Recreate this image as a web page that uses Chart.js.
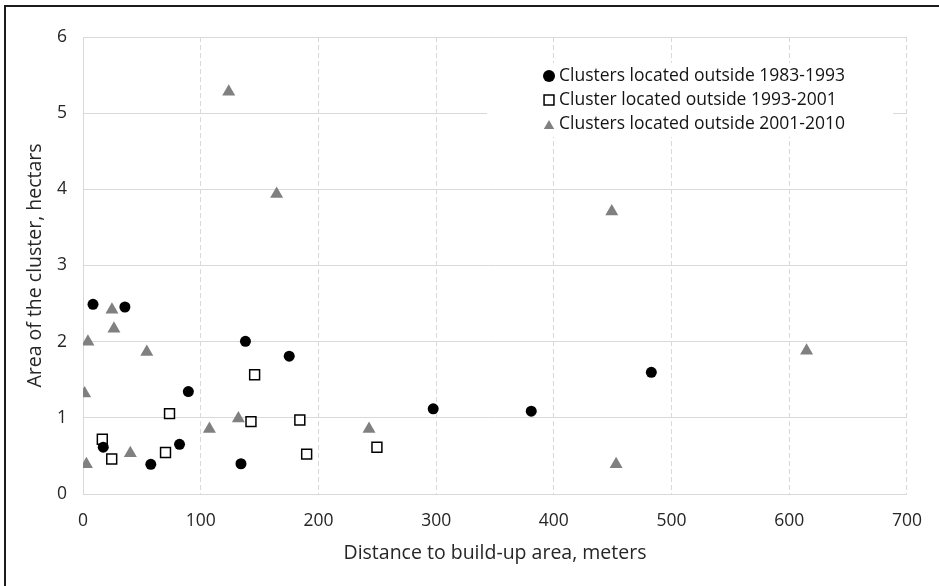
<!DOCTYPE html>
<html>
<head>
<meta charset="utf-8">
<script src="https://cdn.jsdelivr.net/npm/chart.js@4/dist/chart.umd.min.js"></script>
<style>
  html, body { margin: 0; padding: 0; background: #ffffff; }
  #wrap { width: 939px; height: 586px; position: relative; }
</style>
</head>
<body>
<div id="wrap"><canvas id="c" width="939" height="586"></canvas></div>
<script>
// ---- data ----
const seriesNames = [
  'Clusters located outside 1983-1993',
  'Cluster located outside 1993-2001',
  'Clusters located outside 2001-2010'
];
const circlesX = [8.5, 35.6, 138, 175.2, 89.5, 17.2, 57.6, 82, 134.2, 297.5, 380.8, 482.8];
const circlesY = [2.49, 2.455, 2.005, 1.81, 1.345, 0.615, 0.39, 0.652, 0.397, 1.118, 1.087, 1.598];
const squaresX = [16.4, 24.4, 73.5, 70.1, 145.8, 142.7, 184.2, 190, 249.7];
const squaresY = [0.718, 0.459, 1.055, 0.544, 1.566, 0.95, 0.972, 0.524, 0.613];
const trianglesX = [123.8, 164.5, 449.2, 614.7, 452.9, 24.6, 26.3, 4.2, 54.2, 1.4, 132, 107.4, 40.2, 2.9, 243];
const trianglesY = [5.28, 3.94, 3.71, 1.88, 0.39, 2.42, 2.17, 2.0, 1.865, 1.32, 0.99, 0.855, 0.535, 0.39, 0.855];
const xTicks = [0, 100, 200, 300, 400, 500, 600, 700];
const yTicks = [0, 1, 2, 3, 4, 5, 6];
const xTitle = 'Distance to build-up area, meters';
const yTitle = 'Area of the cluster, hectars';

const FONT = "'Open Sans', 'Liberation Sans', sans-serif";
const TEXT = '#262626';
const GRID = '#d9d9d9';

function pts(xs, ys) { return xs.map((x, i) => ({ x: x, y: ys[i] })); }

const styles = [
  { pointStyle: 'circle', pointRadius: 5.5, backgroundColor: '#000000', borderColor: '#000000', borderWidth: 0 },
  { pointStyle: 'rect', pointRadius: 7, backgroundColor: '#ffffff', borderColor: '#000000', borderWidth: 1.5 },
  { pointStyle: 'triangle', pointRadius: 7.5, backgroundColor: '#808080', borderColor: '#808080', borderWidth: 0 }
];
const legendStyles = [
  { pointStyle: 'circle', radius: 6, backgroundColor: '#000000', borderColor: '#000000', borderWidth: 0 },
  { pointStyle: 'rect', radius: 7, backgroundColor: '#ffffff', borderColor: '#000000', borderWidth: 1.5 },
  { pointStyle: 'triangle', radius: 6, backgroundColor: '#808080', borderColor: '#808080', borderWidth: 0 }
];

const dataSets = [pts(circlesX, circlesY), pts(squaresX, squaresY), pts(trianglesX, trianglesY)];

// frame lines (top and left) of the original figure
const framePlugin = {
  id: 'frame',
  afterDraw(chart) {
    const ctx = chart.ctx;
    ctx.save();
    ctx.fillStyle = '#1c1c1c';
    ctx.fillRect(4, 5, chart.width - 4, 2);
    ctx.fillRect(4, 5, 2, chart.height - 5);
    ctx.restore();
  }
};

// legend box drawn inside the plot area with a white background
const boxLegend = {
  id: 'boxLegend',
  beforeDatasetsDraw(chart) {
    const ctx = chart.ctx;
    const x0 = 487, y0 = 63, w = 406, h = 74;
    ctx.save();
    ctx.fillStyle = '#ffffff';
    ctx.fillRect(x0, y0, w, h);
    ctx.font = '17.5px ' + FONT;
    ctx.textBaseline = 'middle';
    ctx.textAlign = 'left';
    seriesNames.forEach((name, i) => {
      const cy = 76 + i * 24;
      const st = legendStyles[i];
      ctx.fillStyle = st.backgroundColor;
      ctx.strokeStyle = st.borderColor;
      ctx.lineWidth = st.borderWidth;
      Chart.helpers.drawPoint(ctx, { pointStyle: st.pointStyle, radius: st.radius, borderWidth: st.borderWidth, rotation: 0 }, 549, cy + (st.pointStyle === 'triangle' ? 2 : 0));
      ctx.fillStyle = '#141414';
      ctx.fillText(name, 559, cy);
    });
    ctx.restore();
  }
};

new Chart(document.getElementById('c'), {
  type: 'scatter',
  data: {
    datasets: dataSets.map((d, i) => Object.assign({ label: seriesNames[i], data: d, pointHoverRadius: styles[i].pointRadius }, styles[i]))
  },
  options: {
    responsive: false,
    animation: false,
    devicePixelRatio: 1,
    layout: { padding: { left: 0, top: 37, right: 30, bottom: 0 } },
    plugins: { legend: { display: false }, tooltip: { enabled: false } },
    scales: {
      x: {
        type: 'linear', min: 0, max: 700,
        afterBuildTicks(scale) { scale.ticks = xTicks.map(v => ({ value: v })); },
        afterFit(scale) { scale.height = 92; },
        ticks: { color: TEXT, font: { family: FONT, size: 17.5 }, padding: 17, callback: v => String(v) },
        grid: { color: GRID, lineWidth: 1, drawTicks: false },
        border: { display: true, color: GRID, width: 1, dash: [5, 3] },
        title: { display: true, text: xTitle, color: TEXT, font: { family: FONT, size: 19.5 }, padding: { top: 0, bottom: 21 } }
      },
      y: {
        type: 'linear', min: 0, max: 6,
        afterBuildTicks(scale) { scale.ticks = yTicks.map(v => ({ value: v })); },
        afterFit(scale) { scale.width = 83; },
        ticks: { color: TEXT, font: { family: FONT, size: 17.5 }, padding: 16, callback: v => String(v) },
        grid: { color: GRID, lineWidth: 1, drawTicks: false },
        border: { display: true, color: GRID, width: 1 },
        title: { display: true, text: yTitle, color: TEXT, font: { family: FONT, size: 19.5 }, padding: { top: 24, bottom: 0 } }
      }
    }
  },
  plugins: [boxLegend, framePlugin]
});
</script>
</body>
</html>
